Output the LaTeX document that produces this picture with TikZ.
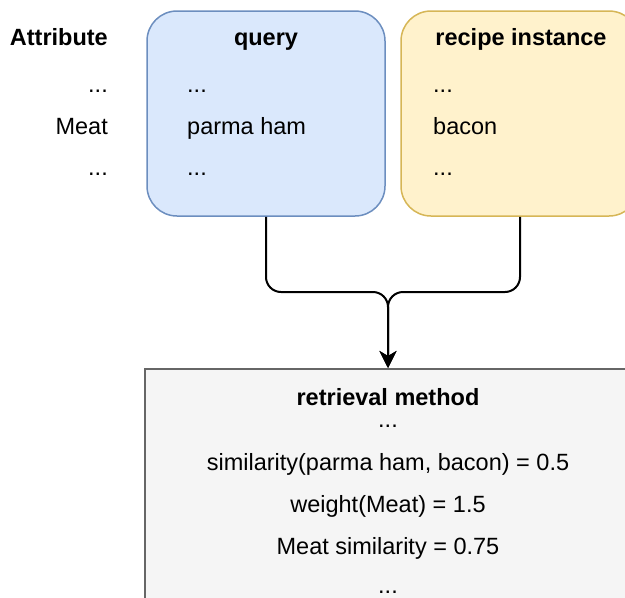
\documentclass[tikz,border=0pt]{standalone}
\usepackage{fontspec}
\setmainfont{Liberation Sans}
\usetikzlibrary{arrows.meta}
\definecolor{qfill}{HTML}{DAE8FC}
\definecolor{qline}{HTML}{6C8EBF}
\definecolor{rfill}{HTML}{FFF2CC}
\definecolor{rline}{HTML}{D6B656}
\definecolor{mfill}{HTML}{F5F5F5}
\definecolor{mline}{HTML}{666666}
\begin{document}
\begin{tikzpicture}[x=1pt,y=1pt,
  txt/.style={inner sep=0pt, font=\fontsize{23.5}{28}\selectfont},
  hdr/.style={inner sep=0pt, font=\fontsize{23.5}{28}\selectfont\bfseries},
  card/.style={draw, line width=1.5pt, rounded corners=30pt,
    minimum width=238pt, minimum height=205pt, inner sep=0pt},
  link/.style={draw=black, line width=2pt, rounded corners=15pt,
    -{Stealth[length=17pt,width=17pt,inset=5pt]}}]
\useasboundingbox (0,0) rectangle (625,-598);
\clip (0,0) rectangle (625,-598);

% boxes
\node[card, draw=qline, fill=qfill] (query) at (266,-113.5) {};
\node[card, draw=rline, fill=rfill] (recipe) at (520,-113.5) {};
\node[draw=mline, fill=mfill, line width=1.5pt, minimum width=486pt,
  minimum height=280pt, inner sep=0pt, anchor=north] (method) at (388,-368) {};

% attribute column
\node[hdr, anchor=base east] (attr) at (108,-45) {Attribute};
\node[txt, anchor=base east] (a1) at (108,-92) {...};
\node[txt, anchor=base east] (a2) at (108,-134) {Meat};
\node[txt, anchor=base east] (a3) at (108,-175) {...};

% query values
\node[hdr, anchor=base] (qh) at (266,-45) {query};
\node[txt, anchor=base west] (q1) at (187,-92) {...};
\node[txt, anchor=base west] (q2) at (187,-134) {parma ham};
\node[txt, anchor=base west] (q3) at (187,-175) {...};

% recipe instance values
\node[hdr, anchor=base] (rh) at (521,-45) {recipe instance};
\node[txt, anchor=base west] (r1) at (433,-92) {...};
\node[txt, anchor=base west] (r2) at (433,-134) {bacon};
\node[txt, anchor=base west] (r3) at (433,-175) {...};

% retrieval method contents
\node[hdr, anchor=base] (mh) at (388,-405) {retrieval method};
\node[txt, anchor=base] (m1) at (388,-427) {...};
\node[txt, anchor=base] (m2) at (388,-470) {similarity(parma ham, bacon) = 0.5};
\node[txt, anchor=base] (m3) at (388,-512) {weight(Meat) = 1.5};
\node[txt, anchor=base] (m4) at (388,-554) {Meat similarity = 0.75};
\node[txt, anchor=base] (m5) at (388,-593) {...};

% connectors merging into the method box
\coordinate (merge) at (388,-292);
\draw[link] (query.south) |- (merge) -- (method.north);
\draw[link] (recipe.south) |- (merge) -- (method.north);
\end{tikzpicture}
\end{document}
